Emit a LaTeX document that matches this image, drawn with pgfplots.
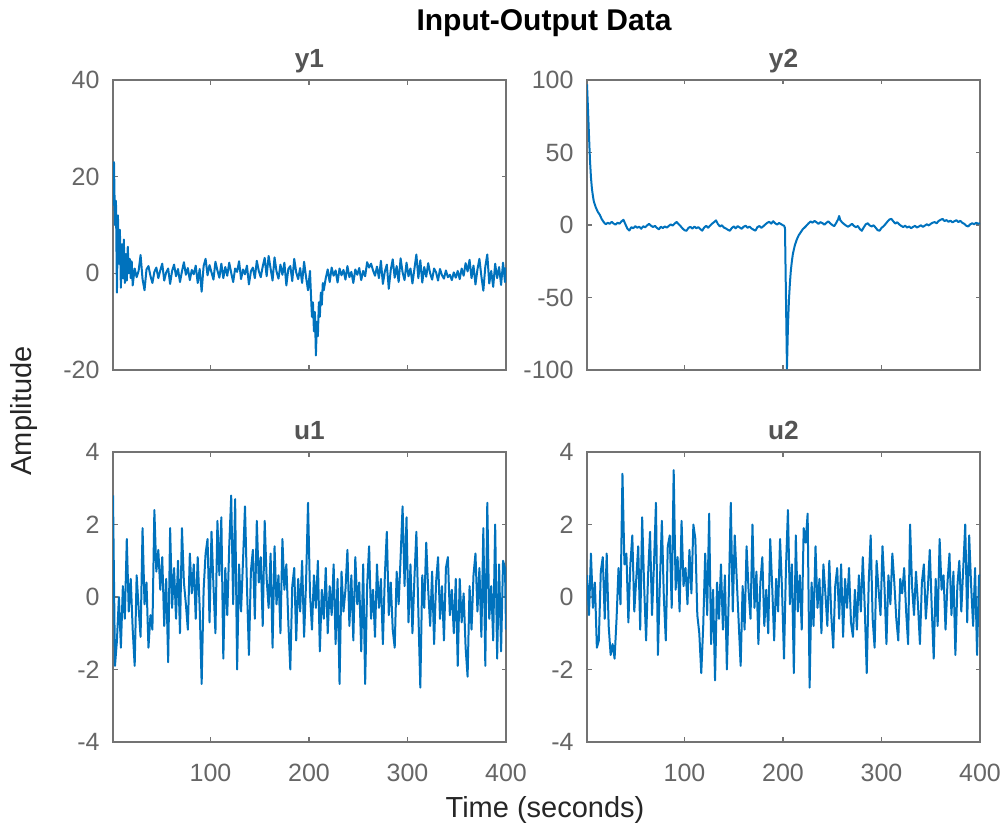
\documentclass[border=0pt]{standalone}
\usepackage{fontspec}
\setmainfont{Liberation Sans}
\usepackage{pgfplots}
\usepackage{pgfplotstable}
\pgfplotsset{compat=1.18}
\definecolor{mblue}{rgb}{0,0.447,0.741}
\definecolor{axgray}{gray}{0.45}
\definecolor{tickgray}{gray}{0.40}
\definecolor{subgray}{gray}{0.33}
\definecolor{labgray}{gray}{0.15}

\pgfplotstableread{
t y
1 14
2 23
3 10
4 15
5 -4
6 12
7 2
8 9
9 -3
10 6
11 -1
12 7
13 -2
14 4
15 -1.5
16 5.5
17 0
18 3
19 -1
20 2.5
21 -2.5
23 1.0
25 -0.8
27 0.5
29 3.8
31 -1.2
33 -3.5
35 0.8
37 1.5
39 -0.5
41 -2.0
43 0.3
45 1.2
47 -1.0
49 0.6
51 2.0
53 -1.5
55 0.2
57 1.0
59 -2.2
61 0.5
63 1.8
65 -0.6
67 0.9
69 -1.8
71 0.4
73 2.3
75 -0.3
77 1.1
79 -1.4
81 0.7
83 -0.2
85 1.6
87 -2.0
89 0.9
91 -3.8
93 1.5
95 3.0
97 -0.4
99 1.7
101 0.2
103 -1.3
105 2.4
107 0.6
109 -0.9
111 2.0
113 -1.0
115 1.3
117 -0.5
119 2.2
121 0.1
123 -1.8
125 1.0
127 0.3
129 2.5
131 -1.2
133 0.8
135 -0.2
137 1.6
139 -2.3
141 0.4
143 1.2
145 -1.0
147 2.6
149 0.5
151 -0.8
153 1.4
155 3.2
157 -0.6
159 3.6
161 1.0
163 -1.5
165 3.3
167 0.4
169 -1.1
171 1.8
173 -0.3
175 2.2
177 -2.5
179 0.9
181 1.5
183 -1.6
185 3.0
187 0.2
189 -1.2
191 1.1
193 -2.0
195 2.4
197 -0.8
199 -3.5
201 0.5
202 -4.5
203 -9
204 -6
205 -12
206 -8
207 -17
208 -10
209 -13
210 -6
211 -9
212 -4
213 -6.5
214 -2
215 -3.5
217 -1.0
219 0.8
221 -1.8
223 1.2
225 -0.5
227 0.6
229 -1.9
231 1.0
233 -0.4
235 0.7
237 -1.3
239 1.5
241 -0.8
243 0.3
245 -2.0
247 0.8
249 -0.3
251 1.1
253 -1.4
255 0.5
257 -0.6
259 2.3
261 1.2
263 2.0
265 0.6
267 -0.5
269 1.4
271 -1.0
273 2.6
275 -2.2
277 0.4
279 1.8
281 -3.2
283 0.7
285 2.9
287 -0.9
289 1.5
291 -1.8
293 3.1
295 0.2
297 -1.4
299 2.2
301 -0.6
303 1.0
305 -2.1
307 0.9
309 3.9
311 -1.0
313 2.7
315 -1.9
317 1.3
319 -0.7
321 2.1
323 0.0
325 -1.3
327 1.0
329 0.2
331 -1.5
333 0.9
335 -0.4
337 -1.1
339 0.6
341 -0.8
343 -0.3
345 -1.4
347 0.2
349 -0.9
351 0.5
353 -1.2
355 1.0
357 -0.5
359 2.1
361 0.4
363 2.8
365 -1.0
367 1.6
369 -2.3
371 0.8
373 3.0
375 -0.6
377 -3.6
379 1.4
381 3.9
383 -2.1
385 0.5
387 -2.8
389 2.0
391 -1.0
393 1.3
395 -2.4
397 2.2
399 -1.8
400 1.2
}\tabya

\pgfplotstableread{
t y
1 97
2 80
3 62
4 45
5 33
6 25
7 20
8 16
10 12
12 9
14 7
16 4
18 2
20 0.5
22 1.5
24 0.8
26 2.2
28 1.0
30 0.3
32 1.6
34 0.9
36 2.5
38 3.6
40 0.5
42 -2.5
44 -3.8
46 -1.5
48 -2.2
50 -0.8
52 -1.9
54 -1.2
56 -2.6
58 -0.9
60 -1.6
62 -0.3
64 0.8
66 -0.5
68 -1.4
70 -0.6
72 -2.0
74 -3.0
76 -1.2
78 -2.1
80 -1.0
82 -1.8
84 -0.7
86 0.4
88 -0.4
90 1.0
92 2.1
94 0.6
96 -0.8
98 -2.4
100 -3.6
102 -4.0
104 -2.0
106 -1.3
108 -2.5
110 -1.1
112 -2.2
114 -1.5
116 -2.8
118 -3.9
120 -1.7
122 -0.6
124 -1.9
126 -0.4
128 0.9
130 2.0
132 3.2
134 0.5
136 -1.0
138 -0.2
140 -1.8
142 -2.4
144 -3.3
146 -4.0
148 -2.1
150 -1.0
152 -2.3
154 -0.8
156 -1.7
158 -2.6
160 -1.2
162 -0.5
164 -1.9
166 -1.1
168 -2.4
170 -3.2
172 -3.9
174 -1.5
176 -0.7
178 -2.0
180 -0.9
182 0.4
184 1.5
186 2.2
188 1.0
190 2.6
192 1.2
194 0.3
196 1.4
198 0.6
200 -0.2
201 -0.5
202 -2
203 -50
204 -99
205 -70
206 -52
207 -40
208 -31
209 -25
210 -20
212 -14
214 -10
216 -7
218 -5
220 -3
223 -1
226 1.2
228 2.4
230 1.6
232 2.8
234 1.9
236 0.8
238 2.0
240 1.3
242 0.2
244 1.5
246 2.5
248 1.1
250 0.0
252 -0.8
254 1.4
256 4.0
257 6.2
258 3.5
260 1.8
262 0.6
264 -0.4
266 -1.2
268 -0.3
270 0.8
272 -0.6
274 -1.5
276 -0.7
278 -2.8
280 -4.0
282 -1.6
284 0.5
286 1.2
288 -0.3
290 -1.0
292 -0.2
294 -1.8
296 -3.5
298 -4.0
300 -2.0
302 -0.9
304 0.6
306 2.3
308 3.8
310 4.2
312 2.5
314 1.0
316 1.9
318 0.4
320 -0.6
322 -1.4
324 -0.5
326 -1.8
328 -1.0
330 -2.2
332 -1.3
334 -0.6
336 -1.7
338 -1.0
340 -0.2
342 -1.3
344 -0.4
346 0.5
348 -0.3
350 0.8
352 1.6
354 2.0
356 1.2
358 2.8
360 3.6
362 4.2
364 2.7
366 3.4
368 2.2
370 3.0
372 1.8
374 2.6
376 3.3
378 2.0
380 2.9
382 1.5
384 0.8
386 -0.5
388 -1.0
390 0.4
392 1.2
394 0.5
396 1.5
398 0.9
400 1.2
}\tabyb

\pgfplotstableread{
t y
1 2.8
3 -1.9
5 -1.2
7 0.0
9 -1.4
11 0.3
13 -0.6
15 1.6
17 -0.4
19 0.5
21 -0.9
23 -1.9
25 0.6
27 -0.3
29 -1.1
31 1.9
33 -0.2
35 0.4
37 -1.4
39 -0.5
41 -0.9
43 2.4
45 0.7
47 1.3
49 0.2
51 1.1
53 -0.8
55 0.5
57 -1.8
59 1.9
61 -0.3
63 0.8
65 -0.6
67 1.0
69 -1.0
71 1.9
73 0.4
75 -0.2
77 -0.9
79 1.2
81 0.1
83 0.9
85 -0.6
87 1.1
89 -0.3
91 -2.4
93 0.2
95 1.2
97 1.6
99 -0.7
101 1.8
103 0.3
105 -1.0
107 2.1
109 0.6
111 2.2
113 -1.7
115 0.8
117 -0.5
119 1.4
121 2.8
123 -0.2
125 2.7
127 -2.0
129 0.9
131 -0.4
133 1.0
135 2.5
137 0.3
139 -1.6
141 0.7
143 1.3
145 -0.6
147 2.1
149 0.4
151 1.1
153 -0.8
155 2.1
157 0.5
159 -0.3
161 1.2
163 -1.4
165 1.4
167 -0.2
169 0.6
171 -1.0
173 1.6
175 0.2
177 0.9
179 -0.7
181 -2.0
183 0.3
185 0.8
187 -1.2
189 0.5
191 -0.4
193 1.0
195 -1.1
197 0.4
199 2.6
201 0.1
203 -0.9
205 0.6
207 -0.3
209 1.0
211 -1.5
213 0.2
215 -0.6
217 0.8
219 -1.0
221 0.3
223 -0.5
225 0.9
227 -1.3
229 0.5
231 -2.4
233 0.7
235 -0.4
237 0.2
239 1.3
241 -0.8
243 0.6
245 -1.2
247 1.1
249 -0.2
251 0.4
253 -1.5
255 0.9
257 -2.4
259 0.3
261 1.4
263 -0.6
265 0.2
267 -1.1
269 0.9
271 -0.3
273 0.5
275 -1.3
277 0.6
279 1.8
281 -0.5
283 0.4
285 -0.9
287 -1.4
289 0.7
291 -0.2
293 1.1
295 2.5
297 0.3
299 2.2
301 -0.7
303 0.9
305 -1.0
307 0.5
309 1.8
311 -0.4
313 -2.5
315 0.6
317 -0.3
319 1.5
321 0.2
323 -0.8
325 0.7
327 -1.3
329 0.4
331 1.1
333 -0.6
335 0.3
337 -1.2
339 0.8
341 1.1
343 -0.5
345 0.2
347 -1.0
349 0.5
351 -1.9
353 0.5
355 -0.7
357 0.1
359 -1.4
361 -2.2
363 0.3
365 -0.9
367 0.6
369 1.2
371 -0.4
373 0.8
375 -1.1
377 1.9
379 -1.9
381 2.6
383 -0.6
385 0.3
387 -1.2
389 2.0
391 -1.7
393 0.9
395 -1.5
397 1.0
399 0.8
400 -0.9
}\tabua

\pgfplotstableread{
t y
1 0.6
3 -0.5
5 1.2
7 -0.3
9 0.4
11 -1.4
13 -1.2
15 0.7
17 1.1
19 -0.6
21 1.2
23 -0.8
25 -1.6
27 -1.3
29 -1.7
31 -0.6
33 0.8
35 -0.2
37 3.4
39 0.9
41 1.2
43 -0.7
45 0.9
47 1.7
49 -0.4
51 0.5
53 1.4
55 -0.9
57 2.2
59 0.3
61 -1.2
63 0.6
65 1.8
67 -0.5
69 0.9
71 2.6
73 -1.6
75 0.4
77 2.1
79 0.0
81 -1.2
83 1.4
85 1.7
87 -0.3
89 3.5
91 0.2
93 1.1
95 -0.4
97 2.1
99 0.3
101 0.8
103 -0.2
105 1.3
107 0.1
109 2.0
111 1.6
113 -0.5
115 -1.0
117 -2.1
119 -0.8
121 1.2
123 -0.5
125 2.3
127 -1.3
129 0.2
131 -2.3
133 0.4
135 -0.6
137 0.9
139 -0.9
141 0.6
143 -2.0
145 0.1
147 2.6
149 -0.4
151 1.7
153 0.5
155 -0.7
157 -1.9
159 0.3
161 -0.9
163 1.4
165 0.2
167 -0.6
169 2.0
171 -0.3
173 0.7
175 -1.3
177 0.4
179 1.1
181 -0.8
183 0.2
185 -1.0
187 1.6
189 0.3
191 -1.2
193 0.5
195 -0.4
197 1.6
199 0.2
201 -1.7
203 0.8
205 2.4
207 -0.2
209 0.9
211 -2.1
213 1.7
215 -0.4
217 0.6
219 -0.9
221 1.9
223 1.5
225 2.3
227 -2.5
229 0.4
231 -0.8
233 1.4
235 -0.3
237 0.5
239 -1.0
241 0.9
243 0.1
245 -0.8
247 1.0
249 -0.5
251 -1.4
253 0.3
255 0.8
257 -0.6
259 0.9
261 -1.1
263 0.5
265 -0.3
267 0.8
269 -0.7
271 -1.1
273 0.2
275 -0.9
277 0.6
279 -0.4
281 1.1
283 -0.3
285 -2.1
287 0.4
289 1.7
291 -0.6
293 -1.4
295 1.0
297 0.2
299 -0.5
301 1.4
303 0.3
305 -1.3
307 0.6
309 -0.2
311 1.2
313 0.4
315 -0.6
317 -1.2
319 0.5
321 0.1
323 0.8
325 -0.4
327 -1.3
329 2.0
331 0.3
333 -0.5
335 0.7
337 -0.2
339 -1.3
341 0.4
343 0.9
345 -0.6
347 0.2
349 1.3
351 -0.3
353 -1.7
355 0.5
357 -0.8
359 1.6
361 0.2
363 0.6
365 -0.9
367 0.4
369 1.2
371 -0.5
373 0.7
375 -1.6
377 0.3
379 1.0
381 -0.4
383 0.8
385 2.0
387 -0.7
389 1.7
391 0.3
393 -0.8
395 0.8
397 -1.6
399 0.6
400 0.6
}\tabub

\pgfplotsset{
  mstyle/.style={
    scale only axis, width=157.2bp, height=116bp,
    xmin=1, xmax=400, xtick={100,200,300,400},
    tick pos=both, tick align=inside, major tick length=1.8bp,
    axis line style={draw=axgray, line width=0.5bp},
    every tick/.style={draw=axgray, line width=0.5bp},
    /pgf/number format/assume math mode=true,
    ticklabel style={font=\fontsize{10bp}{12bp}\selectfont, text=tickgray},
    yticklabel style={anchor=east, inner sep=0pt, xshift=-5.2bp},
    xticklabel style={anchor=base, inner sep=0pt, yshift=-16bp},
    title style={at={(0.5,1)}, anchor=base, yshift=-0.8bp, inner sep=0pt,
      font=\fontsize{10.5bp}{12bp}\selectfont\bfseries, text=subgray},
  },
  notx/.style={xticklabels={}},
  sig/.style={draw=mblue, line width=0.8bp, line join=round, mark=none},
}

\begin{document}
\begin{tikzpicture}
\path[use as bounding box] (0,0) rectangle (402.4bp,330bp);

\begin{axis}[mstyle, notx, at={(45.2bp,182bp)}, anchor=south west,
  ymin=-20, ymax=40, ytick={-20,0,20,40}, title={y1}]
\addplot[sig] table[x=t,y=y] {\tabya};
\end{axis}

\begin{axis}[mstyle, notx, at={(234.8bp,182bp)}, anchor=south west,
  ymin=-100, ymax=100, ytick={-100,-50,0,50,100}, title={y2}]
\addplot[sig] table[x=t,y=y] {\tabyb};
\end{axis}

\begin{axis}[mstyle, at={(45.2bp,33.2bp)}, anchor=south west,
  ymin=-4, ymax=4, ytick={-4,-2,0,2,4}, title={u1}]
\addplot[sig] table[x=t,y=y] {\tabua};
\end{axis}

\begin{axis}[mstyle, at={(234.8bp,33.2bp)}, anchor=south west,
  ymin=-4, ymax=4, ytick={-4,-2,0,2,4}, title={u2}]
\addplot[sig] table[x=t,y=y] {\tabub};
\end{axis}

\node[anchor=base, font=\fontsize{12bp}{14bp}\selectfont\bfseries, text=black] at (217.6bp,317.6bp) {Input-Output Data};
\node[anchor=base, font=\fontsize{11.6bp}{14bp}\selectfont, text=labgray] at (218bp,3.2bp) {Time (seconds)};
\node[rotate=90, font=\fontsize{11.6bp}{14bp}\selectfont, text=labgray] at (9.6bp,165.6bp) {Amplitude};
\end{tikzpicture}
\end{document}
